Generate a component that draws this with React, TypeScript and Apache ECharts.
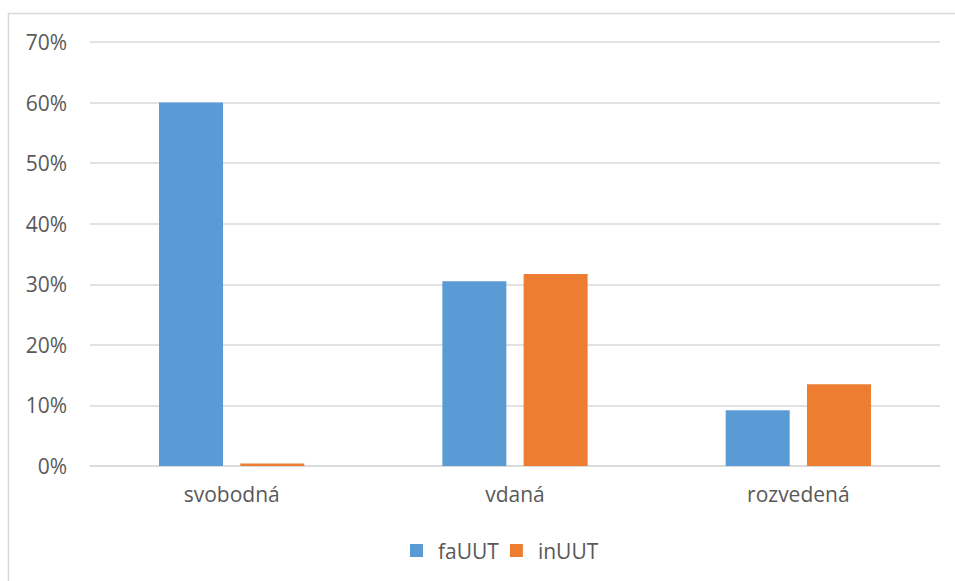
import React, { useEffect, useRef } from "react";
import * as echarts from "echarts";

const categories = ["svobodná", "vdaná", "rozvedená"];
const faUUT = [60.0, 30.5, 9.2];
const inUUT = [0.4, 31.7, 13.5];
const yTicks = [0, 10, 20, 30, 40, 50, 60, 70];

export default function App() {
  const ref = useRef<HTMLDivElement>(null);
  useEffect(() => {
    if (!ref.current) return;
    const chart = echarts.init(ref.current, null, { renderer: "svg" });
    const font = "'Open Sans', sans-serif";
    chart.setOption({
      animation: false,
      backgroundColor: "#ffffff",
      textStyle: { fontFamily: font },
      graphic: [
        {
          type: "rect",
          shape: { x: 8.5, y: 13.5, width: 980, height: 620 },
          style: { fill: "none", stroke: "#d9d9d9", lineWidth: 1.5 },
          silent: true,
        },
      ],
      grid: { left: 90, right: 15, top: 42, bottom: 115, containLabel: false },
      legend: {
        top: 535,
        left: 405,
        itemWidth: 13,
        itemHeight: 13,
        itemGap: 11,
        icon: "rect",
        textStyle: {
          color: "#595959",
          fontSize: 21,
          fontFamily: font,
          padding: [0, 0, 0, 10],
        },
        data: ["faUUT", "inUUT"],
      },
      xAxis: {
        type: "category",
        data: categories,
        axisLine: { lineStyle: { color: "#d9d9d9", width: 1.5 } },
        axisTick: { show: false },
        axisLabel: { color: "#595959", fontSize: 21, margin: 17, fontFamily: font },
      },
      yAxis: {
        type: "value",
        min: yTicks[0],
        max: yTicks[yTicks.length - 1],
        interval: 10,
        axisLine: { show: false },
        axisTick: { show: false },
        splitLine: { lineStyle: { color: "#d9d9d9", width: 1.5 } },
        axisLabel: {
          color: "#595959",
          fontSize: 21,
          margin: 23,
          fontFamily: font,
          formatter: (v: number) => `${v}%`,
        },
      },
      series: [
        {
          name: "faUUT",
          type: "bar",
          data: faUUT,
          barWidth: 64,
          barGap: "27%",
          itemStyle: { color: "#5b9bd5" },
        },
        {
          name: "inUUT",
          type: "bar",
          data: inUUT,
          barWidth: 64,
          itemStyle: { color: "#ed7d31" },
        },
      ],
    });
    return () => chart.dispose();
  }, []);
  return (
    <div
      ref={ref}
      style={{ position: "fixed", left: 0, top: 0, width: 955, height: 581 }}
    />
  );
}
